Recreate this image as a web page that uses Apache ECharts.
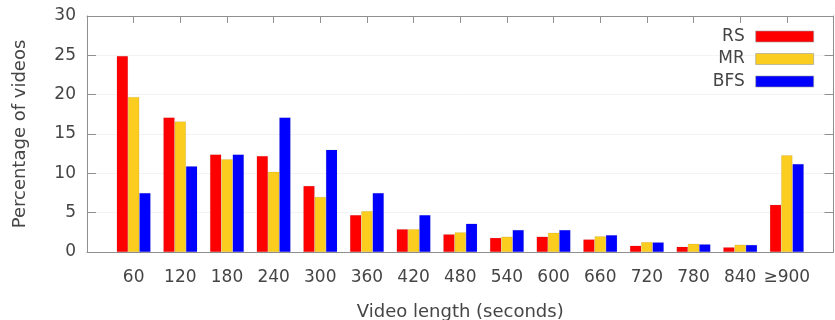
<!DOCTYPE html>
<html>
<head>
<meta charset="utf-8">
<script src="https://cdn.jsdelivr.net/npm/echarts@6/dist/echarts.min.js"></script>
<style>
  html, body { margin: 0; padding: 0; background: #fff; }
  #chart { width: 835px; height: 320px; }
</style>
</head>
<body>
<div id="chart"></div>
<script>
// Video length buckets (seconds)
const categories = ['60', '120', '180', '240', '300', '360', '420', '480', '540', '600', '660', '720', '780', '840', '\u2265900'];

// Percentage of videos per bucket, for each sampling method
const rsValues  = [24.9, 17.1, 12.4, 12.2, 8.4, 4.7, 2.9, 2.25, 1.8, 1.95, 1.6, 0.8, 0.67, 0.6, 6.0];
const mrValues  = [19.7, 16.6, 11.8, 10.2, 7.0, 5.2, 2.9, 2.5, 1.95, 2.45, 2.0, 1.27, 1.05, 0.93, 12.3];
const bfsValues = [7.5, 10.9, 12.4, 17.1, 13.0, 7.5, 4.7, 3.6, 2.8, 2.8, 2.15, 1.23, 0.98, 0.9, 11.2];

const yTicks = [0, 5, 10, 15, 20, 25, 30];

const seriesNames = ['RS', 'MR', 'BFS'];
const seriesColors = ['#ff0000', '#fbcd1f', '#0000ff'];

// one empty slot on each side of the buckets, like the plot range
const axisData = [''].concat(categories, ['']);
const pad = arr => [null].concat(arr, [null]);

const FONT = 'DejaVu Sans';
const TEXT = '#454545';
const BORDER = '#8f8f8f';

const chart = echarts.init(document.getElementById('chart'), null, { renderer: 'canvas' });

// one legend per series so that every entry is right-aligned
const legendFor = (name, i) => ({
  data: [name],
  right: 21,
  top: 28 + i * 22.5,
  padding: 0,
  orient: 'vertical',
  align: 'right',
  icon: 'rect',
  itemWidth: 58,
  itemHeight: 11,
  itemGap: 0,
  selectedMode: false,
  textStyle: { fontFamily: FONT, fontSize: 17, color: TEXT, padding: [0, 6, 0, 0] },
  itemStyle: { borderColor: '#9a9a9a', borderWidth: 0.6 }
});

chart.setOption({
  animation: false,
  backgroundColor: '#ffffff',
  grid: { left: 87, right: 1.5, top: 16, bottom: 68, show: false, outerBoundsMode: 'none', containLabel: false },
  legend: seriesNames.map(legendFor),
  xAxis: [
    {
      type: 'category',
      data: axisData,
      boundaryGap: false,
      position: 'bottom',
      name: 'Video length (seconds)',
      nameLocation: 'middle',
      nameGap: 51,
      nameTextStyle: { fontFamily: FONT, fontSize: 18, color: TEXT },
      axisLine: { onZero: false, lineStyle: { color: BORDER, width: 1 } },
      axisTick: { show: false },
      axisLabel: { fontFamily: FONT, fontSize: 17, color: TEXT, margin: 17, interval: 0 },
      splitLine: { show: false }
    },
    {
      // mirrored ticks along the top border, one per bucket slot
      type: 'category',
      data: axisData,
      boundaryGap: false,
      position: 'top',
      axisLine: { show: true, onZero: false, lineStyle: { color: BORDER, width: 1 } },
      axisTick: { show: true, inside: true, length: 7, interval: 0, lineStyle: { color: BORDER, width: 1 } },
      axisLabel: { show: true, interval: 0, color: 'rgba(0,0,0,0)', fontSize: 1 },
      splitLine: { show: false }
    }
  ],
  yAxis: [
    {
      type: 'value',
      min: yTicks[0],
      max: yTicks[yTicks.length - 1],
      interval: 5,
      name: 'Percentage of videos',
      nameLocation: 'middle',
      nameGap: 58,
      nameTextStyle: { fontFamily: FONT, fontSize: 18, color: TEXT },
      axisLine: { show: true, onZero: false, lineStyle: { color: BORDER, width: 1 } },
      axisTick: { show: true, inside: true, length: 9, lineStyle: { color: BORDER } },
      axisLabel: { fontFamily: FONT, fontSize: 17, color: TEXT, margin: 11 },
      splitLine: { show: true, lineStyle: { color: '#f3f3f3', width: 1 } }
    },
    {
      type: 'value',
      min: yTicks[0],
      max: yTicks[yTicks.length - 1],
      interval: 5,
      position: 'right',
      axisLine: { show: true, onZero: false, lineStyle: { color: BORDER, width: 1 } },
      axisTick: { show: true, inside: true, length: 9, lineStyle: { color: BORDER } },
      axisLabel: { show: false },
      splitLine: { show: false }
    }
  ],
  series: [rsValues, mrValues, bfsValues].map((vals, i) => ({
    name: seriesNames[i],
    type: 'bar',
    xAxisIndex: 0,
    yAxisIndex: 0,
    data: pad(vals),
    barWidth: 11.3,
    barGap: '0%',
    itemStyle: { color: seriesColors[i], borderColor: 'rgba(0,0,0,0.15)', borderWidth: 0.5 }
  }))
});
</script>
</body>
</html>
